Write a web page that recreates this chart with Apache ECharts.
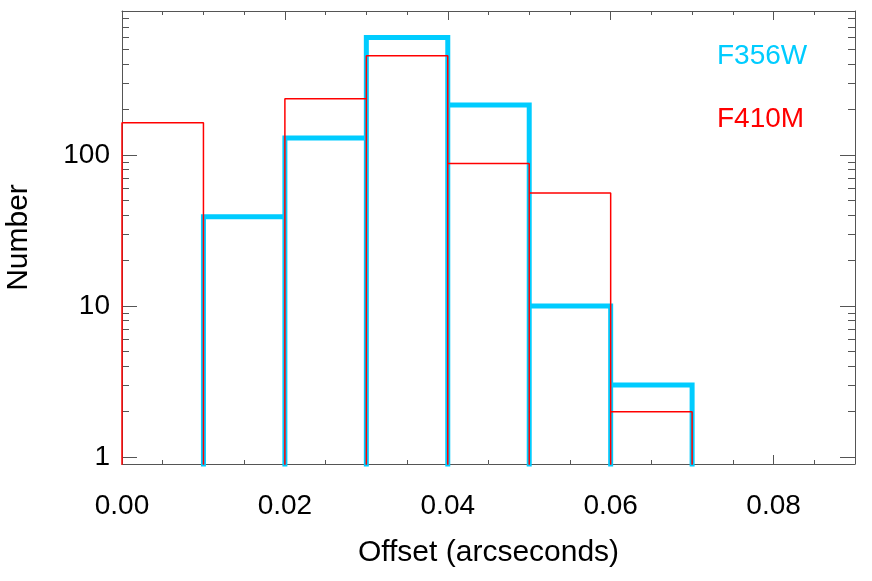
<!DOCTYPE html>
<html>
<head>
<meta charset="utf-8">
<script src="https://cdn.jsdelivr.net/npm/echarts@6/dist/echarts.min.js"></script>
<style>
  html, body { margin: 0; padding: 0; background: #fff; }
  #chart { width: 872px; height: 581px; }
</style>
</head>
<body>
<div id="chart"></div>
<script>
// histogram bins (arcseconds) and counts per bin
const binEdges = [0.00, 0.01, 0.02, 0.03, 0.04, 0.05, 0.06, 0.07]
const f356wCounts = [0, 39, 130, 600, 215, 10, 3]
const f410mCounts = [164, 0, 236, 455, 88, 56, 2]

// tick positions
const xMajorTicks = [0, 0.02, 0.04, 0.06, 0.08]
const xMinorTicks = [0.005, 0.01, 0.015, 0.025, 0.03, 0.035, 0.045, 0.05, 0.055, 0.065, 0.07, 0.075, 0.085]
const yMajorTicks = [1, 10, 100]
const yMinorTicks = [2, 3, 4, 5, 6, 7, 8, 9, 20, 30, 40, 50, 60, 70, 80, 90, 200, 300, 400, 500, 600, 700, 800, 900]

const EMPTY = 0.5 // below the log axis -> clipped at the bottom edge
const FONT = '"Liberation Sans", Arial, Helvetica, sans-serif'
const AXIS_COLOR = '#555'

// each non-empty bin drawn as a closed box outline: up, across, down
function boxPoints(counts) {
    const pts = []
    counts.forEach((c, i) => {
        if (!(c > 0)) return
        pts.push([binEdges[i], EMPTY], [binEdges[i], c], [binEdges[i + 1], c], [binEdges[i + 1], EMPTY])
    })
    return pts
}

function xAxisOf(grid, position, ticks, len, major) {
    return {
        gridIndex: grid, type: 'value', position: position, min: 0, max: 0.09,
        axisLine: {show: major, onZero: false, lineStyle: {color: AXIS_COLOR, width: 1}},
        axisTick: {show: true, inside: true, length: len, customValues: ticks, lineStyle: {color: AXIS_COLOR, width: 1}},
        axisLabel: (major && position === 'bottom')
            ? {show: true, customValues: ticks, formatter: v => Number(v).toFixed(2), fontSize: 28, fontFamily: FONT, color: '#000', margin: 28}
            : {show: false},
        splitLine: {show: false},
        name: (major && position === 'bottom') ? 'Offset (arcseconds)' : '',
        nameLocation: 'middle', nameGap: 74,
        nameTextStyle: {fontSize: 30, fontFamily: FONT, color: '#000'}
    }
}

function yAxisOf(grid, position, ticks, len, major) {
    return {
        gridIndex: grid, type: 'log', logBase: 10, position: position, min: 0.9, max: 900,
        axisLine: {show: major, onZero: false, lineStyle: {color: AXIS_COLOR, width: 1}},
        axisTick: {show: true, inside: true, length: len, customValues: ticks, lineStyle: {color: AXIS_COLOR, width: 1}},
        axisLabel: (major && position === 'left')
            ? {show: true, customValues: ticks, formatter: v => String(Math.round(v)), fontSize: 28, fontFamily: FONT, color: '#000', margin: 12}
            : {show: false},
        splitLine: {show: false},
        name: (major && position === 'left') ? 'Number' : '',
        nameLocation: 'middle', nameGap: 88, nameRotate: 90,
        nameTextStyle: {fontSize: 30, fontFamily: FONT, color: '#000'}
    }
}

const gridBox = {left: 122, right: 17, top: 11, bottom: 117, containLabel: false, outerBoundsMode: 'none'}

const option = {
    backgroundColor: '#fff',
    animation: false,
    grid: [Object.assign({}, gridBox), Object.assign({}, gridBox)],
    xAxis: [
        xAxisOf(0, 'bottom', xMajorTicks, 9, true),
        xAxisOf(0, 'top', xMajorTicks, 9, true),
        xAxisOf(1, 'bottom', xMinorTicks, 4, false),
        xAxisOf(1, 'top', xMinorTicks, 4, false)
    ],
    yAxis: [
        yAxisOf(0, 'left', yMajorTicks, 15, true),
        yAxisOf(0, 'right', yMajorTicks, 15, true),
        yAxisOf(1, 'left', yMinorTicks, 7, false),
        yAxisOf(1, 'right', yMinorTicks, 7, false)
    ],
    series: [
        {
            name: 'F356W', type: 'line', xAxisIndex: 0, yAxisIndex: 0,
            data: boxPoints(f356wCounts), symbol: 'none', clip: true, z: 2,
            lineStyle: {color: '#00ccff', width: 5, join: 'miter'}
        },
        {
            name: 'F410M', type: 'line', xAxisIndex: 0, yAxisIndex: 0,
            data: boxPoints(f410mCounts), symbol: 'none', clip: true, z: 3,
            lineStyle: {color: '#ff0000', width: 1.5}
        }
    ],
    graphic: [
        {type: 'text', left: 717, top: 42, style: {text: 'F356W', fill: '#00ccff', font: '28px ' + FONT}},
        {type: 'text', left: 717, top: 105, style: {text: 'F410M', fill: '#ff0000', font: '28px ' + FONT}}
    ]
}

const myChart = echarts.init(document.getElementById('chart'), null, {renderer: 'canvas'})
myChart.setOption(option)
</script>
</body>
</html>
